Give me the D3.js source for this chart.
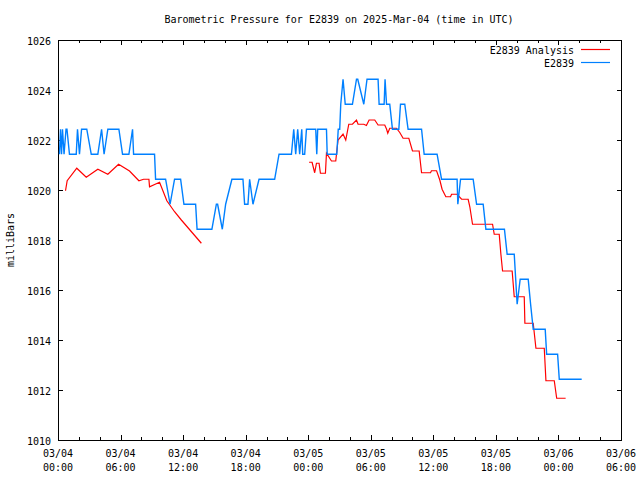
<!DOCTYPE html>
<html><head><meta charset="utf-8">
<script src="https://cdn.jsdelivr.net/npm/d3@7"></script>
<style>
body{margin:0;background:#fff;}
text{font-family:"DejaVu Sans Mono","Liberation Mono",monospace;font-size:10px;fill:#000;}
</style></head>
<body><svg id="c" width="640" height="480"></svg>
<script>
const title = "Barometric Pressure for E2839 on 2025-Mar-04 (time in UTC)";
const yLabel = "milliBars";
const seriesNames = ["E2839 Analysis", "E2839"];
const seriesColors = ["#ff0000", "#0080ff"];
const xTickHours = [0, 6, 12, 18, 24, 30, 36, 42, 48, 54];
const xTickDates = ["03/04","03/04","03/04","03/04","03/05","03/05","03/05","03/05","03/06","03/06"];
const xTickTimes = ["00:00","06:00","12:00","18:00","00:00","06:00","12:00","18:00","00:00","06:00"];
const yTicks = [1010,1012,1014,1016,1018,1020,1022,1024,1026];

// hours since 2025-03-04 00:00 UTC
const analysisHours = [0.72,0.88,1.80,2.71,3.82,4.78,5.81,6.86,7.76,8.21,8.72,8.78,9.74,10.44,11.18,11.83,13.75,
 null,
 24.08,24.37,24.62,24.79,25.04,25.17,25.65,25.75,26.23,26.64,26.86,27.34,27.60,27.89,28.24,28.63,28.78,29.33,29.58,29.84,30.38,30.70,31.34,31.51,31.63,31.82,32.46,32.78,33.10,33.65,34.00,34.64,34.87,35.73,35.82,36.31,36.62,36.84,37.20,37.65,37.75,38.28,38.71,39.34,39.50,39.76,41.68,41.84,42.32,42.48,42.64,43.56,43.76,44.72,44.78,45.58,45.84,46.64,46.80,47.60,47.83,48.69];
const analysisValues = [1019.97,1020.37,1020.87,1020.51,1020.83,1020.63,1021.03,1020.76,1020.37,1020.43,1020.43,1020.13,1020.31,1019.57,1019.13,1018.80,1017.87,
 null,
 1021.11,1021.11,1020.69,1021.07,1021.07,1020.67,1020.67,1021.47,1021.16,1021.16,1022.00,1022.24,1022.00,1022.63,1022.63,1022.80,1022.63,1022.63,1022.58,1022.80,1022.80,1022.60,1022.60,1022.44,1022.27,1022.47,1022.47,1022.30,1022.07,1022.07,1021.56,1021.56,1020.69,1020.69,1020.77,1020.77,1020.40,1020.03,1019.73,1019.73,1019.83,1019.83,1019.63,1019.63,1019.33,1018.63,1018.63,1018.23,1018.23,1017.43,1016.76,1016.76,1015.73,1015.73,1014.67,1014.67,1013.67,1013.67,1012.37,1012.37,1011.67,1011.67];

const stationHours = [0.14,0.24,0.34,0.43,0.58,0.77,0.86,1.10,1.75,1.87,2.06,2.26,2.76,3.19,3.82,4.18,4.42,4.78,5.84,6.19,6.80,7.15,7.25,9.26,9.36,10.32,10.75,11.18,11.76,12.08,13.20,13.34,14.76,15.19,15.31,15.76,16.08,16.68,17.74,17.90,18.22,18.38,18.70,19.28,20.78,21.20,22.39,22.61,22.80,22.99,23.18,23.38,23.47,23.66,23.83,24.72,24.82,24.91,25.75,25.82,26.74,26.88,27.02,27.12,27.34,27.55,28.24,28.63,28.75,29.33,29.64,30.70,30.80,31.28,31.37,31.51,31.82,32.08,32.69,32.85,33.26,33.58,34.87,35.12,36.36,36.79,38.28,38.35,38.61,39.82,40.15,40.78,41.04,42.82,43.08,43.76,44.04,44.33,45.10,45.33,45.58,46.73,46.87,47.92,48.08,50.23];
const stationValues = [1021.43,1022.43,1021.43,1022.43,1021.43,1022.43,1022.43,1021.43,1021.43,1022.43,1021.43,1022.43,1022.43,1021.43,1021.43,1022.43,1021.43,1022.43,1022.43,1021.43,1021.43,1022.43,1021.43,1021.43,1020.43,1020.43,1019.43,1020.43,1020.43,1019.43,1019.43,1018.43,1018.43,1019.43,1019.43,1018.43,1019.43,1020.43,1020.43,1019.43,1019.43,1020.43,1019.43,1020.43,1020.43,1021.43,1021.43,1022.43,1021.43,1022.43,1021.43,1022.43,1021.43,1021.43,1022.43,1022.43,1021.43,1022.43,1022.43,1021.43,1021.43,1022.43,1022.43,1023.43,1024.43,1023.43,1023.43,1024.43,1024.43,1023.43,1024.43,1024.43,1023.43,1023.43,1024.43,1023.43,1023.43,1022.43,1022.43,1023.43,1023.43,1022.43,1022.43,1021.43,1021.43,1020.43,1020.43,1019.43,1020.43,1020.43,1019.43,1019.43,1018.43,1018.43,1017.43,1017.43,1015.43,1016.43,1016.43,1015.43,1014.43,1014.43,1013.43,1013.43,1012.43,1012.43];

const svg = d3.select("#c");
const L = 58, R = 621, T = 40, B = 440;
const x = d3.scaleLinear().domain([0, 54]).range([L, R]);
const y = d3.scaleLinear().domain([1010, 1026]).range([B, T]);

// title
svg.append("text").attr("x", 339).attr("y", 23).attr("text-anchor", "middle").text(title);
// y label
svg.append("text").attr("transform", "translate(14,240) rotate(-90)").attr("text-anchor", "middle").text(yLabel);

const g = svg.append("g").attr("shape-rendering", "crispEdges");
// frame
g.append("rect").attr("x", L + 0.5).attr("y", T + 0.5).attr("width", R - L).attr("height", B - T)
  .attr("fill", "none").attr("stroke", "#000").attr("stroke-width", 1);

// y ticks
yTicks.forEach(v => {
  const yy = Math.round(y(v)) + 0.5;
  g.append("line").attr("x1", L).attr("x2", L + 5).attr("y1", yy).attr("y2", yy).attr("stroke", "#000");
  g.append("line").attr("x1", R - 4).attr("x2", R + 1).attr("y1", yy).attr("y2", yy).attr("stroke", "#000");
  svg.append("text").attr("x", 51).attr("y", yy + 4).attr("text-anchor", "end").text(v);
});
// x minor ticks every 2h
d3.range(0, 55, 2).forEach(h => {
  const xx = Math.round(x(h)) + 0.5;
  const len = (h % 6 === 0) ? 5 : 3;
  g.append("line").attr("x1", xx).attr("x2", xx).attr("y1", B).attr("y2", B - len).attr("stroke", "#000");
  g.append("line").attr("x1", xx).attr("x2", xx).attr("y1", T).attr("y2", T + len).attr("stroke", "#000");
});
xTickHours.forEach((h, i) => {
  const xx = x(h);
  svg.append("text").attr("x", xx).attr("y", 457).attr("text-anchor", "middle").text(xTickDates[i]);
  svg.append("text").attr("x", xx).attr("y", 471).attr("text-anchor", "middle").text(xTickTimes[i]);
});

const line = d3.line().defined(d => d[0] !== null).x(d => x(d[0])).y(d => y(d[1]));
const redData = analysisHours.map((h, i) => [h, analysisValues[i]]);
const blueData = stationHours.map((h, i) => [h, stationValues[i]]);
svg.append("path").attr("d", line(redData)).attr("fill", "none").attr("stroke", seriesColors[0]).attr("stroke-width", 1.2);
svg.append("path").attr("d", line(blueData)).attr("fill", "none").attr("stroke", seriesColors[1]).attr("stroke-width", 1.4);

// legend
[0, 1].forEach(i => {
  const ly = 50 + i * 13;
  svg.append("text").attr("x", 574).attr("y", ly + 4).attr("text-anchor", "end").text(seriesNames[i]);
  svg.append("line").attr("x1", 581).attr("x2", 610).attr("y1", ly - 0.5).attr("y2", ly - 0.5)
    .attr("stroke", seriesColors[i]).attr("stroke-width", 1.2);
});
</script></body></html>
